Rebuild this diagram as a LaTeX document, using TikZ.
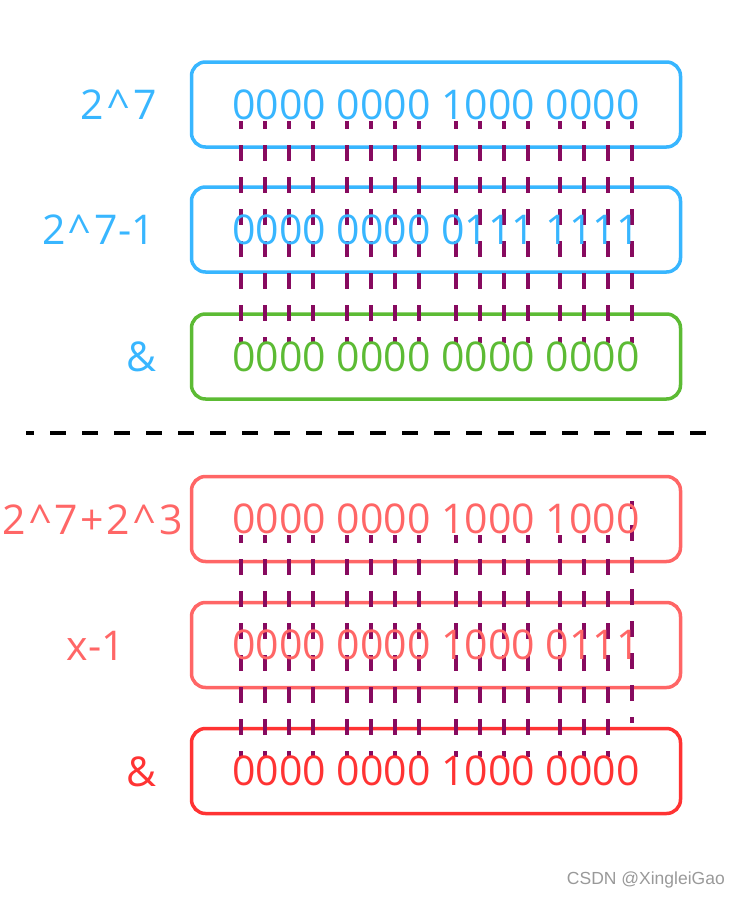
\documentclass[tikz,border=0pt]{standalone}
\usepackage{fontspec}
\setmainfont{Open Sans}
\newfontfamily\markfont{Liberation Sans}
\usetikzlibrary{positioning}
\definecolor{skyblue}{HTML}{38B6FF}
\definecolor{leafgreen}{HTML}{5CBB34}
\definecolor{softred}{HTML}{FF6666}
\definecolor{hotred}{HTML}{FF3333}
\definecolor{bitpurple}{HTML}{870A5F}
\newcommand\pcaret{\hspace{3.5pt}\textasciicircum\hspace{3.5pt}}
\newcommand\pplus{\hspace{2.5pt}+\hspace{2.5pt}}

\begin{document}
\begin{tikzpicture}[x=1pt, y=-1pt,
	numbox/.style={draw, line width=3.5pt, rounded corners=14pt, minimum width=489pt, minimum height=85pt, inner sep=0pt},
	bits/.style={inner sep=0pt, font=\fontsize{41}{49}\selectfont},
	lbl/.style={inner sep=0pt, anchor=base east, font=\fontsize{41}{49}\selectfont},
	bitline/.style={bitpurple, line width=4pt, dash pattern=on 16pt off 16pt, dash phase=8pt}]
	\useasboundingbox (0,0) rectangle (739,900);
	% boxes
	\node[numbox, draw=skyblue] (pow) at (436,104.5) {};
	\node[numbox, draw=skyblue] (powm) at (436,229.5) {};
	\node[numbox, draw=leafgreen] (andA) at (436,356.5) {};
	\node[numbox, draw=softred] (sum) at (436,519) {};
	\node[numbox, draw=softred] (summ) at (436,645) {};
	\node[numbox, draw=hotred] (andB) at (436,771) {};
	% bit columns
	\foreach \x in {241,265,289,313,347,371,395,419,456,480,504,528,560,584,608,632}
	\draw[bitline] (\x,121) -- (\x,343);
	\foreach \x in {241,265,289,313,347,371,395,419,456,480,504,528,560,584,608}
	\draw[bitline] (\x,535) -- (\x,757);
	\draw[bitline] (632,501) -- (632,723);
	% separator
	\draw[line width=3.5pt, dash pattern=on 16pt off 16pt, dash phase=8pt] (26,433) -- (716,433);
	% numbers
	\node[bits, text=skyblue] (powbits) at (pow) {0000 0000 1000 0000};
	\node[bits, text=skyblue] (powmbits) at (powm) {0000 0000 0111 1111};
	\node[bits, text=leafgreen] (andAbits) at (andA) {0000 0000 0000 0000};
	\node[bits, text=softred] (sumbits) at (sum) {0000 0000 1000 1000};
	\node[bits, text=softred] (summbits) at (summ) {0000 0000 1000 0111};
	\node[bits, text=hotred] (andBbits) at (andB) {0000 0000 1000 0000};
	% labels
	\node[lbl, text=skyblue] (powlbl) at (157,119) {2\pcaret7};
	\node[lbl, text=skyblue] (powmlbl) at (155,244) {2\pcaret7-1};
	\node[lbl, text=skyblue] (andAlbl) at (157,371) {\&};
	\node[lbl, text=softred] (sumlbl) at (183,534) {2\pcaret7\pplus2\pcaret3};
	\node[lbl, text=softred] (summlbl) at (125,660) {x-1};
	\node[lbl, text=hotred] (andBlbl) at (157,786) {\&};
	\node[inner sep=0pt, anchor=base east, text=black!40, font=\markfont\fontsize{17.5}{21}\selectfont] (mark) at (725,884) {CSDN @XingleiGao};
\end{tikzpicture}
\end{document}
